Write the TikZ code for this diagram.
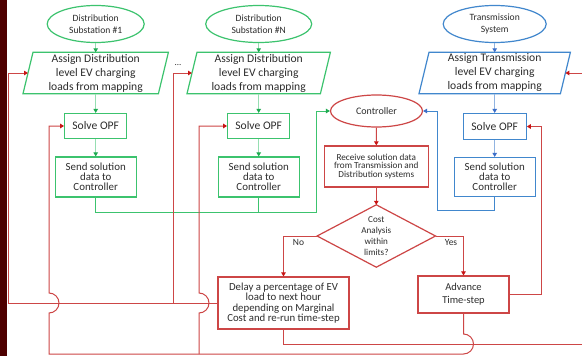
\documentclass[tikz,border=0pt]{standalone}
\usepackage{fontspec}
\setmainfont{Carlito}
\usetikzlibrary{arrows.meta,shapes.geometric}
\definecolor{grn}{RGB}{60,195,110}
\definecolor{grnl}{RGB}{150,222,178}
\definecolor{grnk}{RGB}{30,170,80}
\definecolor{blu}{RGB}{65,135,205}
\definecolor{blul}{RGB}{145,180,225}
\definecolor{bluk}{RGB}{60,110,200}
\definecolor{rd}{RGB}{205,70,70}
\definecolor{rdk}{RGB}{200,20,20}
\definecolor{txt}{RGB}{45,45,45}
\definecolor{strip}{RGB}{78,0,0}
\newcommand{\myfs}[2]{\fontsize{#1}{#2}\selectfont}
\begin{document}
\begin{tikzpicture}[x=1pt,y=-1pt,
  base/.style={inner sep=0pt, align=center, text=txt},
  gbox/.style={base, draw=grn, line width=1.2pt, rectangle},
  bbox/.style={base, draw=blu, line width=1.2pt, rectangle},
  rbox/.style={base, draw=rd, line width=1.2pt, rectangle},
  gell/.style={base, draw=grn, line width=1.2pt, ellipse},
  bell/.style={base, draw=blu, line width=1.2pt, ellipse},
  rell/.style={base, draw=rd, line width=1.2pt, ellipse},
  para/.style={base, rectangle, minimum height=41pt},
  gtip/.style={-{Triangle[length=4pt,width=4.5pt,color=grnk]}},
  btip/.style={-{Triangle[length=4pt,width=4.5pt,color=bluk]}},
  rtip/.style={-{Triangle[length=4pt,width=4.5pt,color=rdk]}},
  glink/.style={draw=grnl, line width=1pt, gtip},
  blink/.style={draw=blul, line width=1pt, btip},
  gline/.style={draw=grn, line width=1pt},
  bline/.style={draw=blu, line width=1pt},
  rline/.style={draw=rd, line width=1pt},
  lab/.style={base, font=\myfs{9.5}{11}}
]
\useasboundingbox (0,0) rectangle (582,356);
\clip (0,0) rectangle (582,356);
\fill[white] (0,0) rectangle (582,356);
\fill[strip] (0,0) rectangle (7,356);

% ---- column 1
\node[gell, minimum width=97pt, minimum height=37pt, font=\myfs{9.6}{12.5}] (e1) at (95.7,24) {Distribution\\Substation \#1};
\node[para, minimum width=135pt, font=\myfs{11.6}{14}] (p1) at (95.7,73) {Assign Distribution\\level EV charging\\loads from mapping};
\draw[grn, line width=1.2pt] ([xshift=5pt]p1.north west) -- ([xshift=5pt]p1.north east) -- ([xshift=-5pt]p1.south east) -- ([xshift=-5pt]p1.south west) -- cycle;
\node[gbox, minimum width=62pt, minimum height=25pt, font=\myfs{11.6}{14}] (s1) at (95.7,126) {Solve OPF};
\node[gbox, minimum width=81pt, minimum height=40pt, font=\myfs{10.9}{10.2}] (d1) at (95.7,177) {Send solution\\data to\\Controller};

% ---- column N
\node[gell, minimum width=106pt, minimum height=37pt, font=\myfs{9.6}{12.5}] (eN) at (258.7,24) {Distribution\\Substation \#N};
\node[para, minimum width=133pt, font=\myfs{11.6}{14}] (pN) at (258.7,73) {Assign Distribution\\level EV charging\\loads from mapping};
\draw[grn, line width=1.2pt] ([xshift=5pt]pN.north west) -- ([xshift=5pt]pN.north east) -- ([xshift=-5pt]pN.south east) -- ([xshift=-5pt]pN.south west) -- cycle;
\node[gbox, minimum width=62pt, minimum height=25pt, font=\myfs{11.6}{14}] (sN) at (258.7,126) {Solve OPF};
\node[gbox, minimum width=81pt, minimum height=40pt, font=\myfs{10.9}{10.2}] (dN) at (258.7,177) {Send solution\\data to\\Controller};
\node[base, font=\myfs{9}{10}] (dots) at (178,65) {...};

% ---- transmission column
\node[bell, minimum width=103pt, minimum height=37pt, font=\myfs{9.6}{12.5}] (eT) at (494.7,24) {Transmission\\System};
\node[para, minimum width=141pt, font=\myfs{11.6}{14}] (pT) at (494.7,73) {Assign Transmission\\level EV charging\\loads from mapping};
\draw[blu, line width=1.2pt] ([xshift=5pt]pT.north west) -- ([xshift=5pt]pT.north east) -- ([xshift=-5pt]pT.south east) -- ([xshift=-5pt]pT.south west) -- cycle;
\node[bbox, minimum width=63pt, minimum height=26pt, font=\myfs{11.6}{14}] (sT) at (494.7,126.5) {Solve OPF};
\node[bbox, minimum width=81pt, minimum height=39pt, font=\myfs{10.9}{10.2}] (dT) at (494.7,177) {Send solution\\data to\\Controller};

% ---- controller column
\node[rell, minimum width=92pt, minimum height=32pt, font=\myfs{10}{12}] (ctrl) at (376.5,111) {Controller};
\node[rbox, minimum width=104pt, minimum height=41pt, font=\myfs{9.2}{8.7}] (recv) at (376.3,166.5) {Receive solution data\\from Transmission and\\Distribution systems};
\node[base, rectangle, minimum width=118pt, minimum height=62pt, font=\myfs{9.1}{11}] (dia) at (376.3,236) {Cost\\Analysis\\within\\limits?};
\draw[rd, line width=1.2pt] (dia.north) -- (dia.east) -- (dia.south) -- (dia.west) -- cycle;
\node[rbox, minimum width=131pt, minimum height=52pt, font=\myfs{10.8}{10.4}] (delay) at (283.5,303) {Delay a percentage of EV\\load to next hour\\depending on Marginal\\Cost and re-run time-step};
\node[rbox, minimum width=91pt, minimum height=37pt, font=\myfs{10.5}{12.7}] (adv) at (463.5,294.5) {Advance\\Time-step};

% ---- vertical links in columns
\draw[glink] (e1.south) -- (p1.north);
\draw[glink] (p1.south) -- (s1.north);
\draw[glink] (s1.south) -- (d1.north);
\draw[glink] (eN.south) -- (pN.north);
\draw[glink] (pN.south) -- (sN.north);
\draw[glink] (sN.south) -- (dN.north);
\draw[blink] (eT.south) -- (pT.north);
\draw[blink] (pT.south) -- (sT.north);
\draw[blink] (sT.south) -- (dT.north);

% ---- send data to controller
\coordinate (gc) at (316,212);
\coordinate (bc) at (437,210);
\draw[gline, gtip] (d1.south) |- (gc) |- (ctrl.west);
\draw[gline] (dN.south) -- (dN.south |- gc);
\draw[bline, btip] (dT.south) |- (bc) |- (ctrl.east);

% ---- controller chain
\draw[rline, rtip] (ctrl.south) -- (recv.north);
\draw[rline, rtip] (recv.south) -- (dia.north);
\draw[rline, rtip] (dia.west) -| (delay.north);
\draw[rline, rtip] (dia.east) -| (adv.north);
\node[lab] (no) at (298.5,242) {No};
\node[lab] (yes) at (451,242) {Yes};

% ---- advance -> transmission solve
\coordinate (ar) at (541,294.5);
\draw[rline, rtip] (adv.east) -- (ar) |- (sT.east);

% ---- delay -> assign (distribution)
\coordinate (jl) at (8,303);
\coordinate (jm) at (173,303);
\draw[rline, rtip] (delay.west) -- (jl) |- (p1.west);
\draw[rline, rtip] (jm) |- (pN.west);

% ---- delay -> assign (transmission), via right edge
\coordinate (cr) at (590,344);
\draw[rline, rtip] (delay.south) |- (cr) |- (pT.east);

% ---- advance -> distribution solve
\coordinate (bl) at (49,354);
\coordinate (bm) at (199,354);
\draw[rline, rtip] (adv.south) -- (463.5,334) arc[start angle=90, end angle=-90, radius=10pt] -- (bl) -- (49,313) arc[start angle=-90, end angle=90, radius=10pt] |- (s1.west);
\draw[rline, rtip] (bm) -- (199,313) arc[start angle=-90, end angle=90, radius=10pt] |- (sN.west);
\end{tikzpicture}
\end{document}
